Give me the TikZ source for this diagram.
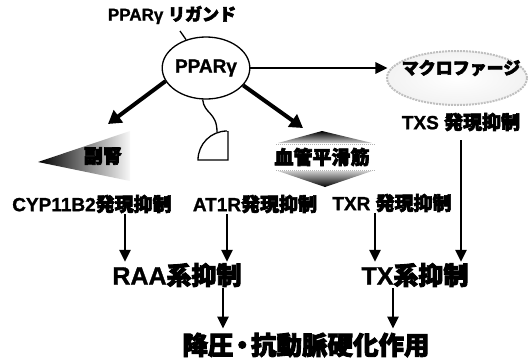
\documentclass[tikz,border=0pt]{standalone}
\usepackage{fontspec}
\usepackage{tikz}
\usetikzlibrary{positioning,shapes,arrows.meta}

\setmainfont{Liberation Sans}[FakeBold=1.2]
\newfontfamily\jp{Noto Sans CJK JP}[FakeBold=3.5]
\newcommand{\fs}[1]{\fontsize{#1bp}{#1bp}\selectfont\bfseries}

\begin{document}
\begin{tikzpicture}[x=1bp, y=-1bp,
    lbl/.style={inner sep=1bp, font=\fs{19}},
    big/.style={inner sep=1bp, font=\fs{25}},
    fat/.style={-{Triangle[length=13bp,width=15bp]}, line width=4bp},
    arr/.style={-{Triangle[length=12bp,width=11bp]}, line width=2.6bp}]
    \useasboundingbox (0,0) rectangle (530,360);

    % receptor and ligand
    \node[font=\fs{17}, inner sep=1bp] (ligand) at (172,15) {PPARγ {\jp リガンド}};
    \node[draw, ellipse, line width=1.3bp, minimum width=78bp, minimum height=62bp, inner sep=0pt, font=\fs{19}] (ppar) at (206,68) {PPARγ};
    \coordinate (tick) at (180,31);
    \draw[line width=1.3bp] (tick) -- (ppar);

    % macrophage cloud
    \node[ellipse, minimum width=140bp, minimum height=54bp, draw=gray!50, densely dotted, line width=2bp, inner color=white, outer color=gray!10] (cloud) at (457,78) {};
    \node[lbl, font=\fs{17}] (macro) at (461,68) {\jp マクロファージ};
    \node[lbl] (txs) at (461,122) {TXS {\jp 発現抑制}};

    % adrenal wedge
    \shade[left color=black, right color=gray!5] (38,162) -- (130,131) -- (130,181) -- cycle;
    \node[lbl] (adrenal) at (103,156) {\jp 副腎};

    % AT1 receptor cup
    \coordinate (rcp) at (217,132);
    \draw[line width=1.3bp] (228,131) -- (228,160) -- (198,160) arc[start angle=180, end angle=270, radius=29];
    \draw[line width=1.3bp] (ppar.264) .. controls (204,114) and (217,112) .. (rcp);

    % smooth muscle
    \shade[top color=black, bottom color=gray!40] (322,131) -- (372,143) -- (278,143) -- cycle;
    \shade[top color=gray!40, bottom color=black] (278,171) -- (372,171) -- (325,187) -- cycle;
    \draw[gray!60, densely dotted, line width=1bp] (276,144) -- (374,144) (276,170) -- (374,170);
    \node[lbl] (vsm) at (322,157) {\jp 血管平滑筋};

    % effects
    \node[lbl] (cyp) at (92,204) {CYP11B2\jp 発現抑制};
    \node[lbl] (at1r) at (255,204) {AT1R\jp 発現抑制};
    \node[lbl] (txr) at (392,203) {TXR {\jp 発現抑制}};
    \node[big] (raa) at (177,275) {RAA\jp 系抑制};
    \node[big] (tx) at (415,275) {TX\jp 系抑制};
    \node[font=\fs{25.5}, inner sep=1bp] (effect) at (306,345) {\jp 降圧\kern-4bp・\kern-4bp 抗動脈硬化作用};

    \coordinate (adr-in) at (108,124);
    \coordinate (vsm-in) at (303,128);
    \draw[fat] (ppar.198) -- (adr-in);
    \draw[fat] (ppar.335) -- (vsm-in);
    \draw[arr] (ppar.east) -- ([xshift=-13bp]macro.west);

    \draw[arr] ([xshift=33bp]cyp.south) -- ([xshift=33bp]cyp.south |- raa.north);
    \draw[arr] ([xshift=-28bp]at1r.south) -- ([xshift=-28bp]at1r.south |- raa.north);
    \draw[arr] ([xshift=-17bp]txr.south) -- ([xshift=-17bp]txr.south |- tx.north);
    \draw[arr, shorten <=8bp] (txs.south) -- (txs.south |- tx.north);
    \draw[arr, shorten >=3bp] ([xshift=46bp]raa.south) -- ([xshift=46bp]raa.south |- effect.north);
    \draw[arr, shorten >=3bp] ([xshift=-22bp]tx.south) -- ([xshift=-22bp]tx.south |- effect.north);
\end{tikzpicture}
\end{document}
